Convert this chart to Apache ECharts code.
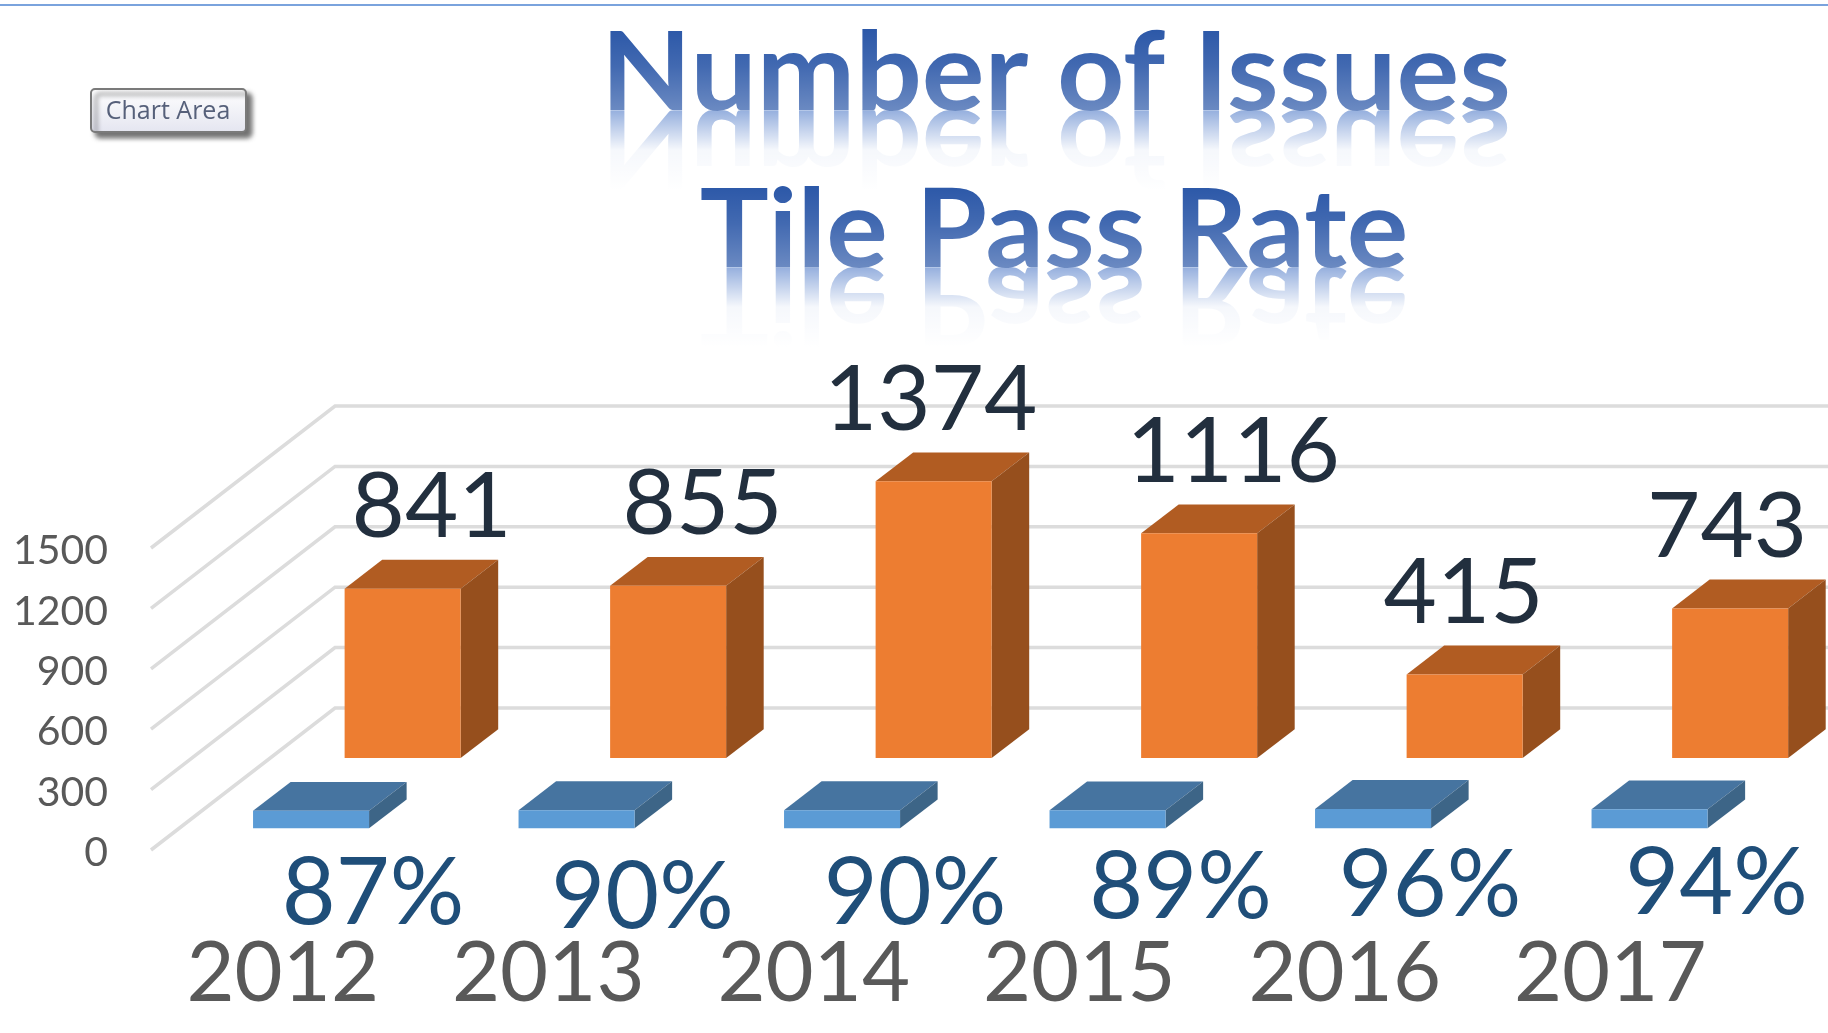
<!DOCTYPE html>
<html>
<head>
<meta charset="utf-8">
<title>Number of Issues / Tile Pass Rate</title>
<style>
html, body { margin: 0; padding: 0; background: #fff; }
#main { width: 1828px; height: 1033px; }
</style>
<script src="https://cdn.jsdelivr.net/npm/echarts@6/dist/echarts.min.js"></script>
</head>
<body>
<div id="main"></div>
<script>
// values
var years = ['2012', '2013', '2014', '2015', '2016', '2017'];
var issues = [841, 855, 1374, 1116, 415, 743];
var passRate = [87, 90, 90, 89, 96, 94];
var yTicks = [0, 300, 600, 900, 1200, 1500];

// the labels in the picture were dragged by hand, so each one has its own shift [x, y]
var issueLabelShift = [[29, -81.5], [34.5, -81.5], [-3, -81.5], [34, -81], [-1, -81.5], [-3, -81.5]];
var rateLabelShift = [[62, 83], [66, 88], [73, 84], [73, 78], [57, 77], [78, 75]];
var lastRateBarShift = 11;

var font = 'Lato';
var wallX = 185, wallY = -142;  // front of floor to back wall, in px
var barRatio = 0.437;
var barDepth = 0.203;
var orangeDepth = 0.648;
var blueDepth = 0.153;

var orange = { front: '#ed7d31', top: '#b15c22', side: '#964f1d' };
var blue = { front: '#5b9bd5', top: '#4674a0', side: '#3d6587' };

function project(api, cat, val, depth) {
    var p = api.coord([cat, val]);
    return [p[0] + depth * wallX, p[1] + depth * wallY];
}

function box(api, cat, val, depth, colors, shiftX) {
    var w = api.size([1, 0])[0] * barRatio;
    var a = project(api, cat, val, depth);
    var b = project(api, cat, 0, depth);
    var dx = barDepth * wallX, dy = barDepth * wallY;
    var l = a[0] - w / 2 + shiftX, r = a[0] + w / 2 + shiftX, t = a[1], f = b[1];
    function face(points, fill) {
        return { type: 'polygon', shape: { points: points }, style: { fill: fill } };
    }
    return {
        type: 'group',
        children: [
            face([[l, t], [r, t], [r + dx, t + dy], [l + dx, t + dy]], colors.top),
            face([[r, t], [r + dx, t + dy], [r + dx, f + dy], [r, f]], colors.side),
            face([[l, t], [r, t], [r, f], [l, f]], colors.front)
        ]
    };
}

function renderGrid(params, api) {
    var left = params.coordSys.x;
    var width = params.coordSys.width;
    var y = api.coord([0, api.value(1)])[1];
    return {
        type: 'polyline',
        shape: { points: [[left + 1, y], [left + wallX, y + wallY], [left + wallX + width, y + wallY]] },
        style: { stroke: '#dcdcdc', lineWidth: 3.5, fill: 'none' }
    };
}

function renderIssue(params, api) {
    return box(api, api.value(0), api.value(1), orangeDepth, orange, 0);
}

function renderRate(params, api) {
    var shift = params.dataIndex === years.length - 1 ? lastRateBarShift : 0;
    return box(api, api.value(0), api.value(1), blueDepth, blue, shift);
}

function renderIssueLabel(params, api) {
    var p = project(api, api.value(0), api.value(1), orangeDepth);
    var s = issueLabelShift[params.dataIndex];
    return {
        type: 'text', x: p[0] + s[0], y: p[1] + s[1],
        style: {
            text: String(api.value(1)), fill: '#222f3e', font: '92px ' + font,
            textAlign: 'center', textVerticalAlign: 'middle'
        }
    };
}

function renderRateLabel(params, api) {
    var p = project(api, api.value(0), api.value(1), blueDepth);
    var s = rateLabelShift[params.dataIndex];
    return {
        type: 'text', x: p[0] + s[0], y: p[1] + s[1],
        style: {
            text: api.value(1) + '%', fill: '#1f4e79', font: '93px ' + font,
            textAlign: 'center', textVerticalAlign: 'middle'
        }
    };
}

function pairs(list) {
    return list.map(function (v, i) { return [i, v]; });
}

// zrender text cannot take a gradient fill, so the fade comes from white gradient
// rects laid over solid text (white on the white page does not show)
function titleLine(text, x, y, baseline, scaleX) {
    var LG = echarts.graphic.LinearGradient;
    var titleFont = 'bold 109px ' + font;
    return [{
        type: 'text', x: x, y: 2 * baseline - y, scaleX: scaleX, scaleY: -1,
        style: { text: text, font: titleFont, textAlign: 'center', textVerticalAlign: 'middle', fill: '#5c84cc' }
    }, {
        type: 'rect',
        shape: { x: 560, y: baseline, width: 1000, height: 100 },
        style: {
            fill: new LG(0, 0, 0, 1, [
                { offset: 0, color: 'rgba(255,255,255,0.35)' },
                { offset: 0.4, color: 'rgba(255,255,255,0.94)' },
                { offset: 0.8, color: 'rgba(255,255,255,1)' }
            ])
        }
    }, {
        type: 'text', x: x, y: y, scaleX: scaleX,
        style: { text: text, font: titleFont, textAlign: 'center', textVerticalAlign: 'middle', fill: '#2c58a8' }
    }, {
        type: 'rect',
        shape: { x: 560, y: baseline - 90, width: 1000, height: 91 },
        style: {
            fill: new LG(0, 0, 0, 1, [
                { offset: 0.1, color: 'rgba(255,255,255,0)' },
                { offset: 0.5, color: 'rgba(255,255,255,0.1)' },
                { offset: 1, color: 'rgba(255,255,255,0.3)' }
            ])
        }
    }];
}

var myChart = echarts.init(document.getElementById('main'));

var option = {
    animation: false,
    backgroundColor: '#fff',
    grid: { left: 150, top: 548, width: 1593, height: 302 },
    xAxis: {
        type: 'category',
        data: years,
        axisLine: { show: false },
        axisTick: { show: false },
        axisLabel: { color: '#595959', fontFamily: font, fontSize: 83, margin: 83 }
    },
    yAxis: {
        type: 'value',
        min: 0,
        max: 1500,
        interval: 300,
        splitLine: { show: false },
        axisLine: { show: false },
        axisTick: { show: false },
        axisLabel: {
            color: '#595959', fontFamily: font, fontSize: 41, margin: 42,
            verticalAlign: 'top', lineHeight: 6,
            formatter: function (v) { return String(v); }
        }
    },
    graphic: [
        { type: 'rect', shape: { x: 0, y: 4, width: 1828, height: 2 }, style: { fill: '#7aa3dd' } },
        {
            type: 'rect',
            shape: { x: 91, y: 89, width: 155, height: 43, r: 4 },
            style: {
                fill: new echarts.graphic.LinearGradient(0, 0, 0, 1, [
                    { offset: 0, color: '#ffffff' },
                    { offset: 1, color: '#e4e5f0' }
                ]),
                stroke: '#7a7a7a', lineWidth: 2,
                shadowColor: 'rgba(0,0,0,0.55)', shadowBlur: 5, shadowOffsetX: 5, shadowOffsetY: 5
            }
        },
        {
            type: 'text', x: 168, y: 112,
            style: {
                text: 'Chart Area', font: '25px "Open Sans"', fill: '#56607a',
                textAlign: 'center', textVerticalAlign: 'middle'
            }
        }
    ].concat(titleLine('Number of Issues', 1056, 75, 110, 1.078), titleLine('Tile Pass Rate', 1054, 232, 267, 1.058)),
    series: [
        { type: 'custom', renderItem: renderGrid, data: pairs(yTicks), encode: { x: 0, y: 1 }, z: 1, silent: true },
        { type: 'custom', renderItem: renderIssue, data: pairs(issues), encode: { x: 0, y: 1 }, z: 2 },
        { type: 'custom', renderItem: renderRate, data: pairs(passRate), encode: { x: 0, y: 1 }, z: 3 },
        { type: 'custom', renderItem: renderIssueLabel, data: pairs(issues), encode: { x: 0, y: 1 }, z: 4 },
        { type: 'custom', renderItem: renderRateLabel, data: pairs(passRate), encode: { x: 0, y: 1 }, z: 4 }
    ]
};

myChart.setOption(option);
</script>
</body>
</html>
